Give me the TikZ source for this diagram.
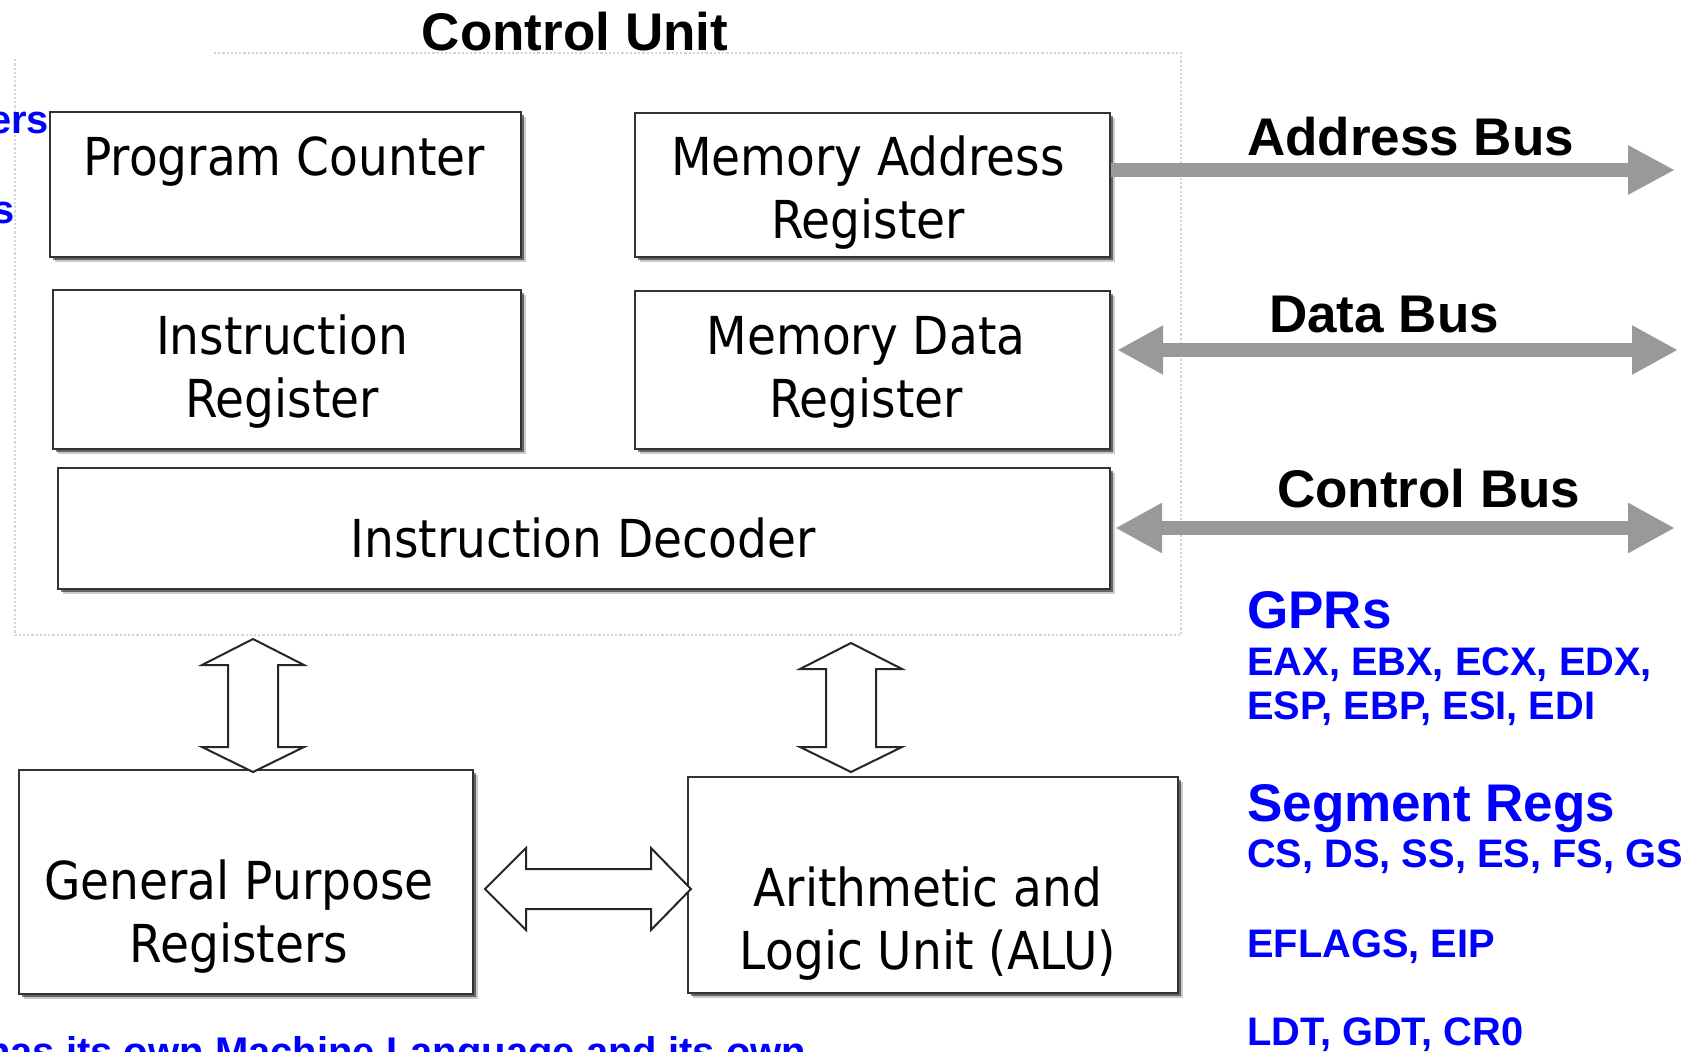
\documentclass[tikz,border=0pt]{standalone}
\usepackage{fontspec}
\setmainfont{Liberation Sans}
\newfontfamily\boxfont[FakeStretch=0.9]{DejaVu Sans}
\usetikzlibrary{arrows.meta,shadows}
\definecolor{busgray}{RGB}{153,153,153}
\definecolor{regblue}{RGB}{0,0,255}
\definecolor{framegray}{RGB}{212,212,212}

\begin{document}
\begin{tikzpicture}[x=1pt,y=-1pt,
  unitbox/.style={draw=black!80, line width=2.4pt, fill=white, inner sep=0pt,
    drop shadow={shadow xshift=2.5pt, shadow yshift=-2.5pt, opacity=.5, fill=black},
    drop shadow={shadow xshift=5pt, shadow yshift=-5pt, opacity=.2, fill=black}},
  boxtext/.style={inner sep=0pt, align=center, font=\boxfont\fontsize{52.3}{63}\selectfont},
  titletext/.style={inner sep=0pt, font=\bfseries\fontsize{53}{60}\selectfont},
  buslabel/.style={inner sep=0pt, anchor=base west, font=\bfseries\fontsize{53}{60}\selectfont},
  bigblue/.style={inner sep=0pt, anchor=base west, text=regblue, font=\bfseries\fontsize{53}{58}\selectfont},
  smallblue/.style={inner sep=0pt, anchor=base west, text=regblue, font=\bfseries\fontsize{39.8}{46}\selectfont},
  bus/.style={draw=busgray, line width=14pt},
  hollow/.style={draw=black!85, line width=2pt, fill=white, line join=miter},
]
% canvas and clipping
\fill[white] (0,0) rectangle (1698,1052);
\path[use as bounding box, clip] (0,0) rectangle (1698,1052);

% dotted outline of the control unit
\draw[framegray, dotted, line width=2.2pt] (214,53) -- (1181,53) -- (1181,635) -- (15,635) -- (15,58);

% title
\node[titletext, anchor=base] (title) at (575,50) {Control Unit};

% control unit registers
\node[unitbox, minimum width=471pt, minimum height=145pt] (pc)  at (285.5,184.5) {};
\node[unitbox, minimum width=475pt, minimum height=144pt] (mar) at (872.5,185) {};
\node[unitbox, minimum width=468pt, minimum height=159pt] (ir)  at (287,369.5) {};
\node[unitbox, minimum width=475pt, minimum height=158pt] (mdr) at (872.5,370) {};
\node[unitbox, minimum width=1052pt, minimum height=121pt] (idec) at (584,528.5) {};

% execution unit
\node[unitbox, minimum width=454pt, minimum height=224pt] (gpr) at (246,882) {};
\node[unitbox, minimum width=490pt, minimum height=216pt] (alu) at (933,885) {};

% box captions
\node[boxtext] (pctext)  at (284,162.4) {\strut Program Counter};
\node[boxtext] (martext) at (868,193.9) {\strut Memory Address\\\strut Register};
\node[boxtext] (irtext)  at (282,373.4) {\strut Instruction\\\strut Register};
\node[boxtext] (mdrtext) at (866,373.4) {\strut Memory Data\\\strut Register};
\node[boxtext] (idtext)  at (583,544.4) {\strut Instruction Decoder};
\node[boxtext] (gprtext) at (239,917.9) {\strut General Purpose\\\strut Registers};
\node[boxtext] (alutext) at (928,924.9) {\strut Arithmetic and\\\strut Logic Unit (ALU)};

% hollow double arrows
\coordinate (gprlink) at (253,639);
\coordinate (alulink) at (851,643);
\coordinate (sidelink) at (485,889);
\draw[hollow] (gprlink) -- ++(51,26) -- ++(-26,0) -- ++(0,82) -- ++(26,0) -- ++(-51,25)
  -- ++(-51,-25) -- ++(26,0) -- ++(0,-82) -- ++(-26,0) -- cycle;
\draw[hollow] (alulink) -- ++(51,26) -- ++(-26,0) -- ++(0,78) -- ++(26,0) -- ++(-51,25)
  -- ++(-51,-25) -- ++(26,0) -- ++(0,-78) -- ++(-26,0) -- cycle;
\draw[hollow] (sidelink) -- ++(41,-41) -- ++(0,21) -- ++(125,0) -- ++(0,-21) -- ++(40,41)
  -- ++(-40,41) -- ++(0,-21) -- ++(-125,0) -- ++(0,21) -- cycle;

% system buses
\coordinate (abusend) at (1675,170);
\coordinate (dbusend) at (1678,350);
\coordinate (cbusend) at (1675,528);
\draw[bus, -{Triangle[length=47pt,width=46pt]}] ([yshift=15pt]mar.east) -- (abusend);
\draw[bus, {Triangle[length=46pt,width=46pt]}-{Triangle[length=46pt,width=46pt]}]
  ([xshift=6pt,yshift=20pt]mdr.east) -- (dbusend);
\draw[bus, {Triangle[length=47pt,width=47pt]}-{Triangle[length=47pt,width=47pt]}]
  ([xshift=4pt,yshift=0.5pt]idec.east) -- (cbusend);

\node[buslabel] (abus) at (1247,155) {Address Bus};
\node[buslabel] (dbus) at (1269,332) {Data Bus};
\node[buslabel] (cbus) at (1277,507) {Control Bus};

% register lists
\node[bigblue] (gprs) at (1247,628) {GPRs};
\node[smallblue] (gpr1) at (1247,675) {EAX, EBX, ECX, EDX,};
\node[smallblue] (gpr2) at (1247,719) {ESP, EBP, ESI, EDI};
\node[bigblue] (segs) at (1247,821) {Segment Regs};
\node[smallblue] (seg1) at (1247,867) {CS, DS, SS, ES, FS, GS};
\node[smallblue] (flags) at (1247,957) {EFLAGS, EIP};
\node[smallblue] (tables) at (1247,1045) {LDT, GDT, CR0};

% text running off the edges
\node[smallblue, anchor=base east] (leftA) at (49,133) {ers};
\node[smallblue, anchor=base east] (leftB) at (15,223) {s};
\node[smallblue, font=\bfseries\fontsize{40}{46}\selectfont] (bottom) at (-14,1065)
  {has its own Machine Language and its own};
\end{tikzpicture}
\end{document}
